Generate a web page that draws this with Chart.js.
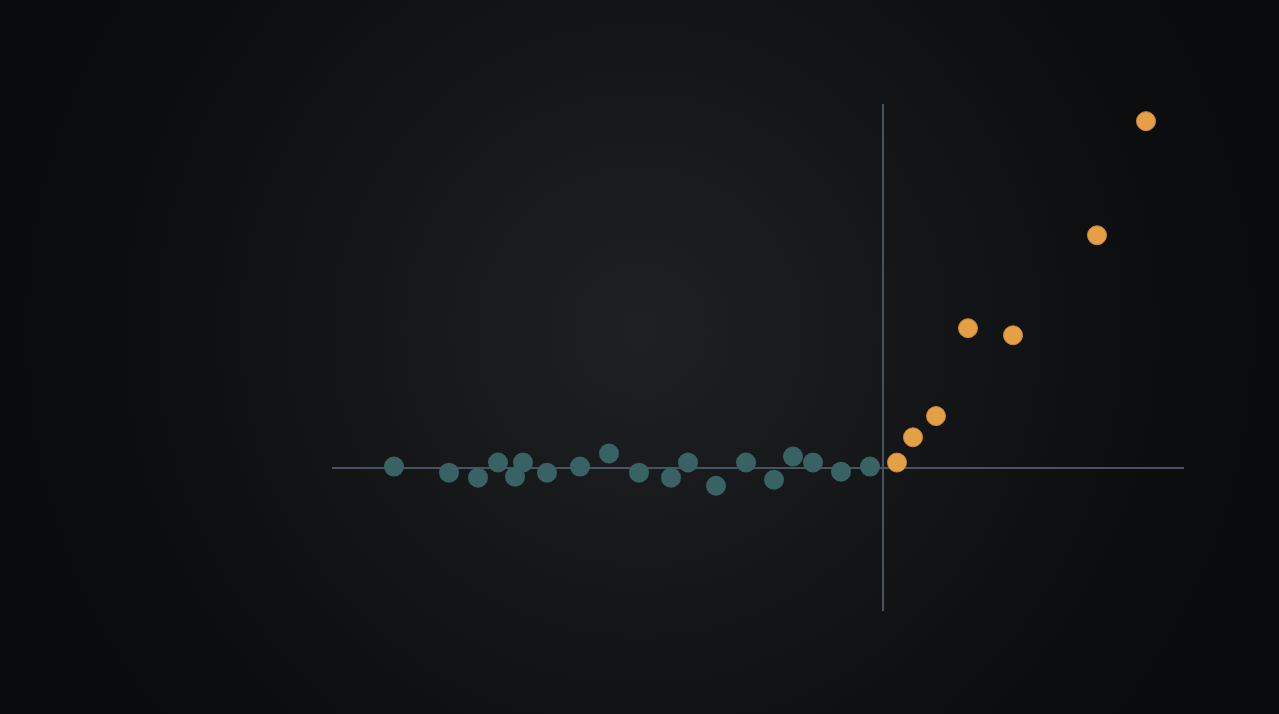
<!DOCTYPE html>
<html>
<head>
  <title>Scatter</title>
  <style>
    html, body {
      margin: 0;
      padding: 0;
      width: 1279px;
      height: 714px;
      overflow: hidden;
    }
    body {
      background: radial-gradient(circle 620px at 640px 330px, #1e2124 0%, #151719 40%, #0f1011 70%, #0a0b0c 100%);
    }
    #chartWrap {
      position: absolute;
      left: 0;
      top: 0;
      width: 1279px;
      height: 714px;
    }
  </style>
</head>
<body>
  <div id="chartWrap"><canvas id="chart"></canvas></div>

  <script src="https://cdn.jsdelivr.net/npm/chart.js@4/dist/chart.umd.min.js"></script>

  <script>
    // points before the zero line (flat)
    const beforeX = [-48.9, -43.4, -40.5, -38.5, -36.8, -36.0, -33.6, -30.3, -27.4, -24.4,
                     -21.2, -19.5, -16.7, -13.7, -10.9, -9.0, -7.0, -4.2, -1.3];
    const beforeY = [0.1, -0.5, -1.0, 0.5, -0.9, 0.5, -0.5, 0.1, 1.4, -0.5,
                     -1.0, 0.5, -1.8, 0.5, -1.2, 1.1, 0.5, -0.4, 0.1];

    // points after the zero line (rising)
    const afterX = [1.4, 3.0, 5.3, 8.5, 13.0, 21.4, 26.3];
    const afterY = [0.5, 3.0, 5.1, 13.8, 13.1, 23.0, 34.3];

    const xRange = [-55, 30];
    const yRange = [-14.1, 35.9];

    const toPoints = (xs, ys) => xs.map((x, i) => ({ x: x, y: ys[i] }));

    const ctx = document.getElementById('chart').getContext('2d');

    new Chart(ctx, {
      type: 'scatter',
      data: {
        datasets: [{
          label: 'before',
          data: toPoints(beforeX, beforeY),
          backgroundColor: '#386263',
          borderColor: '#386263',
          borderWidth: 0,
          pointRadius: 10,
          pointHoverRadius: 10
        }, {
          label: 'after',
          data: toPoints(afterX, afterY),
          backgroundColor: '#e5a046',
          borderColor: '#c98a38',
          borderWidth: 1,
          pointRadius: 9.5,
          pointHoverRadius: 9.5
        }]
      },
      options: {
        responsive: true,
        maintainAspectRatio: false,
        animation: false,
        layout: {
          padding: { left: 333, right: 96, top: 105, bottom: 104 }
        },
        plugins: {
          legend: { display: false },
          tooltip: { enabled: false }
        },
        scales: {
          x: {
            type: 'linear',
            min: xRange[0],
            max: xRange[1],
            position: { y: 0 },
            grid: { display: false },
            ticks: { display: false },
            border: { display: true, color: '#465360', width: 2 }
          },
          y: {
            type: 'linear',
            min: yRange[0],
            max: yRange[1],
            position: { x: 0 },
            grid: { display: false },
            ticks: { display: false },
            border: { display: true, color: '#465360', width: 2 }
          }
        }
      }
    });
  </script>
</body>
</html>
